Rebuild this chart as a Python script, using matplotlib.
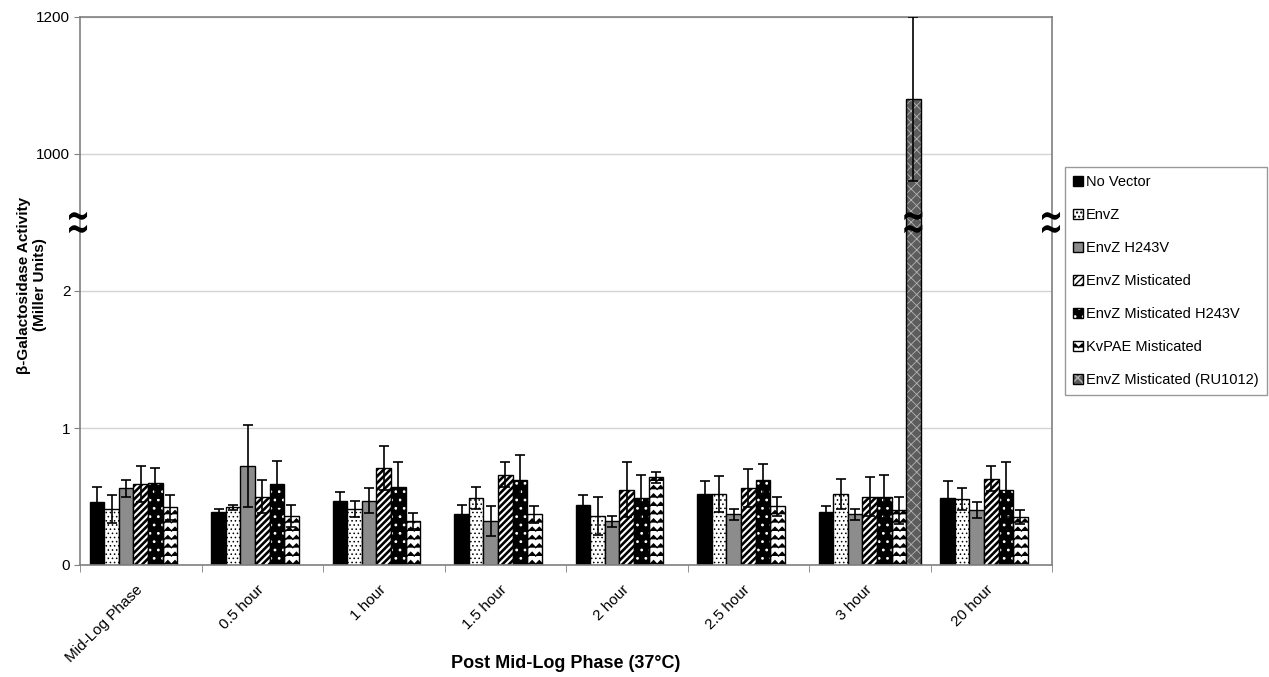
import numpy as np
import matplotlib
matplotlib.use('Agg')
import matplotlib.pyplot as plt
import matplotlib.hatch as mhatch
from matplotlib.path import Path
from matplotlib.textpath import TextPath
from matplotlib.patches import PathPatch
from matplotlib.font_manager import FontProperties
from matplotlib.legend_handler import HandlerTuple
from matplotlib.transforms import Affine2D, ScaledTranslation, blended_transform_factory

# ---------------- data ----------------
categories = ["Mid-Log Phase", "0.5 hour", "1 hour", "1.5 hour", "2 hour",
              "2.5 hour", "3 hour", "20 hour"]
series_names = ["No Vector", "EnvZ", "EnvZ H243V", "EnvZ Misticated",
                "EnvZ Misticated H243V", "KvPAE Misticated",
                "EnvZ Misticated (RU1012)"]
nan = np.nan
no_vector = [0.46, 0.39, 0.47, 0.37, 0.44, 0.52, 0.39, 0.49]
no_vector_err = [0.11, 0.02, 0.06, 0.07, 0.07, 0.09, 0.04, 0.12]
envz = [0.41, 0.42, 0.41, 0.49, 0.36, 0.52, 0.52, 0.48]
envz_err = [0.10, 0.02, 0.06, 0.08, 0.14, 0.13, 0.11, 0.08]
envz_h243v = [0.56, 0.72, 0.47, 0.32, 0.32, 0.37, 0.37, 0.40]
envz_h243v_err = [0.06, 0.30, 0.09, 0.11, 0.04, 0.04, 0.04, 0.06]
envz_mist = [0.59, 0.50, 0.71, 0.66, 0.55, 0.56, 0.50, 0.63]
envz_mist_err = [0.13, 0.12, 0.16, 0.09, 0.20, 0.14, 0.14, 0.09]
envz_mist_h243v = [0.60, 0.59, 0.57, 0.62, 0.49, 0.62, 0.50, 0.55]
envz_mist_h243v_err = [0.11, 0.17, 0.18, 0.18, 0.17, 0.12, 0.16, 0.20]
kvpae_mist = [0.42, 0.36, 0.32, 0.37, 0.64, 0.43, 0.40, 0.35]
kvpae_mist_err = [0.09, 0.08, 0.06, 0.06, 0.04, 0.07, 0.10, 0.05]
envz_mist_ru1012 = [nan, nan, nan, nan, nan, nan, 1080, nan]
envz_mist_ru1012_err = [nan, nan, nan, nan, nan, nan, 120, nan]

ytick_values = [0, 1, 2, 1000, 1200]
ytick_labels = ["0", "1", "2", "1000", "1200"]

values = [no_vector, envz, envz_h243v, envz_mist, envz_mist_h243v,
          kvpae_mist, envz_mist_ru1012]
errors = [no_vector_err, envz_err, envz_h243v_err, envz_mist_err,
          envz_mist_h243v_err, kvpae_mist_err, envz_mist_ru1012_err]


# ---------------- custom zigzag hatch (replaces 'O') ----------------
class ZigZagHatch(mhatch.HatchPatternBase):
    def __init__(self, hatch, density):
        self.num_rows = int(hatch.count('O') * density)
        self.num_peaks = int(round(self.num_rows * 1.15))
        self.n = 2 * self.num_peaks + 1
        self.num_vertices = self.num_rows * self.n if self.num_rows else 0

    def set_vertices_and_codes(self, vertices, codes):
        if self.num_rows == 0:
            return
        rows = (np.arange(self.num_rows) + 0.5) / self.num_rows
        amp = 0.22 / self.num_rows
        n = self.n
        xs = np.linspace(0, 1, n)
        offs = np.where(np.arange(n) % 2 == 0, -amp, amp)
        for i, r in enumerate(rows):
            vertices[i * n:(i + 1) * n, 0] = xs
            vertices[i * n:(i + 1) * n, 1] = r + offs
            codes[i * n] = Path.MOVETO
            codes[i * n + 1:(i + 1) * n] = Path.LINETO


mhatch._hatch_types = [t for t in mhatch._hatch_types
                       if t is not mhatch.LargeCircles] + [ZigZagHatch]

plt.rcParams['font.family'] = ['Liberation Sans', 'DejaVu Sans']
plt.rcParams['hatch.linewidth'] = 1.0

# ---------------- broken y scale ----------------
_src = [0.0, 2.5, 900.0, 1200.0]
_dst = [0.0, 2.5, 2.5001, 4.0]


def fwd(v):
    return np.interp(v, _src, _dst)


def inv(d):
    return np.interp(d, _dst, _src)


fig = plt.figure(figsize=(12.69, 6.77), dpi=100)
ax = fig.add_axes([80 / 1269, 1 - 565 / 677, 972 / 1269, 548 / 677])
ax.set_yscale('function', functions=(fwd, inv))

x = np.arange(len(categories))
w = 0.1195
styles = [
    dict(facecolor='black', edgecolor='black'),
    dict(facecolor='white', edgecolor='black', hatch='....'),
    dict(facecolor='#8c8c8c', edgecolor='black'),
    dict(facecolor='white', edgecolor='black', hatch='/////'),
    None,  # two layer
    dict(facecolor='white', edgecolor='black', hatch='OO'),
    None,  # two layer
]
hatch_lw = {1: 0.6, 3: 1.9, 4: 0.8, 5: 1.0, 6: 0.6}


def set_hlw(container, lw):
    for p in container.patches:
        if hasattr(p, 'set_hatch_linewidth'):
            p.set_hatch_linewidth(lw)


handles = []
for i, (vals, errs) in enumerate(zip(values, errors)):
    xi = x + (i - 3) * w
    if i in (4, 6):
        if i == 4:
            under = ax.bar(xi, vals, w, facecolor='black', edgecolor='white',
                           hatch='..', linewidth=0, zorder=2)
        else:
            under = ax.bar(xi, vals, w, facecolor='#5c5c5c',
                           edgecolor='#b4b4b4', hatch='xxx', linewidth=0,
                           zorder=2)
        over = ax.bar(xi, vals, w, facecolor='none', edgecolor='black',
                      linewidth=1.0, zorder=2.1)
        set_hlw(under, hatch_lw[i])
        h = (under, over)
    else:
        h = ax.bar(xi, vals, w, linewidth=1.0, zorder=2, **styles[i])
        if i in hatch_lw:
            set_hlw(h, hatch_lw[i])
    handles.append(h)
    ax.errorbar(xi, vals, yerr=errs, fmt='none', ecolor='black',
                elinewidth=1.2, capsize=3.6, capthick=1.2, zorder=3)

ax.set_xlim(-0.5, len(categories) - 0.5)
ax.set_ylim(0, 1200)
ax.set_yticks(ytick_values)
ax.set_yticklabels(ytick_labels, fontsize=11)
ax.yaxis.set_minor_locator(matplotlib.ticker.NullLocator())
ax.set_xticks(x)
ax.set_xticklabels(categories, rotation=45, ha='right', va='center',
                   rotation_mode='anchor', fontsize=11)
shift = ScaledTranslation(-5 / 100, 0, fig.dpi_scale_trans)
for lbl in ax.get_xticklabels():
    lbl.set_transform(lbl.get_transform() + shift)
ax.set_xticks(np.arange(len(categories) + 1) - 0.5, minor=True)
ax.tick_params(axis='x', which='major', length=0, pad=16.5)
ax.tick_params(axis='x', which='minor', length=5, color='#808080',
               direction='out')
ax.tick_params(axis='y', length=4, color='#808080', direction='out', pad=3)
ax.grid(axis='y', color='#d4d4d4', linewidth=1.0, zorder=0)
ax.set_axisbelow(True)
for s in ax.spines.values():
    s.set_color('#808080')
    s.set_linewidth(1.2)

fig.text(0.5 * (80 + 1052) / 1269, 1 - 664 / 677, "Post Mid-Log Phase (37°C)",
         fontsize=13, fontweight='bold', ha='center', va='center')
fig.text(32 / 1269, 1 - 285 / 677, "β-Galactosidase Activity\n(Miller Units)",
         fontsize=11, fontweight='bold', rotation=90, ha='center',
         va='center', multialignment='center', linespacing=1.25)

# ---------------- break markers (two bold tildes) ----------------
tp = TextPath((0, 0), "~", size=1,
              prop=FontProperties(family='DejaVu Sans', weight='bold'))
bb = tp.get_extents()
tilde = Path((tp.vertices - [bb.x0 + bb.width / 2, bb.y0 + bb.height / 2])
             / [bb.width, bb.height], tp.codes)


def add_break(xpos, ypos, base):
    for dy in (6.5, -6.5):
        tr = (Affine2D().scale(18, 8.5).translate(0, dy)
              + ScaledTranslation(xpos, ypos, base))
        fig.add_artist(PathPatch(tilde, transform=tr, facecolor='black',
                                 edgecolor='none', zorder=6))


ybreak = 2.5 / 4.0
add_break(-0.002, ybreak, ax.transAxes)
add_break(0.999, ybreak, ax.transAxes)
add_break(x[6] + 3 * w, ybreak,
          blended_transform_factory(ax.transData, ax.transAxes))

leg = fig.legend(handles, series_names, loc='center left',
                 bbox_to_anchor=(1065 / 1269, 1 - 281 / 677),
                 handler_map={tuple: HandlerTuple(ndivide=1, pad=0)},
                 fontsize=10.5, frameon=True, fancybox=False,
                 edgecolor='#808080', handlelength=0.7, handleheight=0.7,
                 handletextpad=0.2, labelspacing=1.3, borderpad=0.55,
                 borderaxespad=0)
leg.get_frame().set_linewidth(1.0)

fig.savefig('out.png', dpi=100)
